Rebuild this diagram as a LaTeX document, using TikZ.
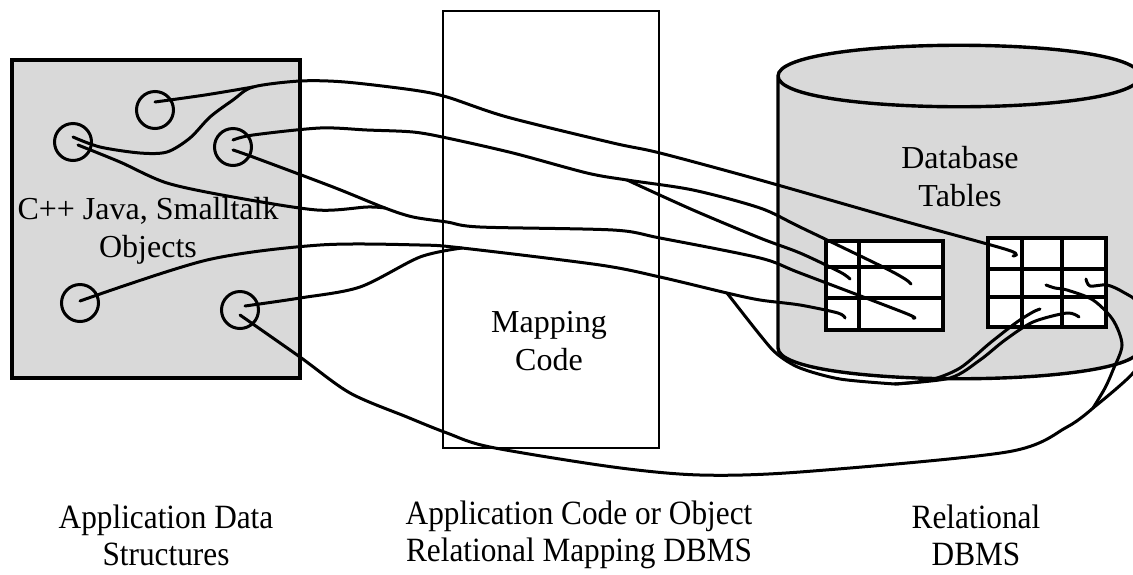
\documentclass[tikz,border=0pt]{standalone}
\usepackage{fontspec}
\setmainfont{Liberation Serif}
\newfontfamily\capfont[FakeStretch=0.92]{Liberation Serif}
\begin{document}
\begin{tikzpicture}[x=0.5pt,y=-0.5pt,
  wire/.style={line width=1.5pt,line cap=round,line join=round},
  obj/.style={circle,draw,line width=1.5pt,minimum size=18.5pt,inner sep=0pt},
  tbl/.style={draw,fill=white,line width=1.6pt,inner sep=0pt},
  lbl/.style={font=\fontsize{16}{19}\selectfont,align=center,inner sep=0pt},
  captext/.style={font=\capfont\fontsize{17}{18.5}\selectfont,align=center,inner sep=0pt}]
  \clip (0,0) rectangle (1133,574);

  % application side
  \node[draw,fill=black!15,line width=2pt,minimum width=144pt,minimum height=159pt] (app) at (156,219) {};
  \node[obj] (o1) at (155,110) {};
  \node[obj] (o2) at (73,142) {};
  \node[obj] (o3) at (233,147) {};
  \node[obj] (o4) at (80,303) {};
  \node[obj] (o5) at (240,310) {};
  \node[lbl] (applbl) at (148,231) {C++ Java, Smalltalk\\Objects};

  % mapping layer
  \node[draw,fill=white,line width=1.3pt,minimum width=108pt,minimum height=218.5pt] (map) at (551,229.5) {};
  \node[lbl] (maplbl) at (549,341) {Mapping\\Code};

  % database cylinder
  \path[fill=black!15] (778,76) -- (778,348) .. controls (778,389) and (1140,389) .. (1140,348)
    -- (1140,76) .. controls (1140,35) and (778,35) .. (778,76);
  \draw[line width=1.7pt] (1140,348) .. controls (1140,389) and (778,389) .. (778,348) -- (778,76)
    .. controls (778,35) and (1140,35) .. (1140,76) .. controls (1140,117) and (778,117) .. (778,76);
  \node[lbl] (dblbl) at (960,177) {Database\\Tables};

  % tables
  \node[tbl,minimum width=58.5pt,minimum height=44.5pt] (tab1) at (884.5,285.5) {};
  \draw[line width=1.6pt] (859,241) -- (859,330) (826,267) -- (943,267) (826,298) -- (943,298);
  \node[tbl,minimum width=59pt,minimum height=44.5pt] (tab2) at (1047,282.5) {};
  \draw[line width=1.6pt] (1022,238) -- (1022,327) (1062,238) -- (1062,327)
    (988,269) -- (1106,269) (988,297) -- (1106,297);

  \coordinate (t1c21) at (850,279);
  \coordinate (t1c22) at (911,284);
  \coordinate (t1c31) at (845,318);
  \coordinate (t1c32) at (913,318);
  \coordinate (t2c11) at (1013,256);
  \coordinate (t2c22) at (1046,285);
  \coordinate (t2c23) at (1086,279);
  \coordinate (t2c32) at (1040,309);
  \coordinate (t2c33) at (1079,317);

  \coordinate (j1) at (253,87);
  \coordinate (j2) at (627,180);
  \coordinate (j3) at (385,208);
  \coordinate (j4) at (462,248);
  \coordinate (j5) at (727,293);
  \coordinate (j6) at (895,384);
  \coordinate (j7) at (1093,408);

  % connections
  \draw[wire] plot[smooth,tension=.5] coordinates {([yshift=4pt]o1.center) (205,95) (j1)};
  \draw[wire] plot[smooth,tension=.5] coordinates {([yshift=2.5pt]o2.center) (100,147) (140,153)
    (167,152) (190,138) (210,117) (233,100) (j1) (300,81) (345,82) (413,90) (447,97) (507,117)
    (613,143) (660,153) (760,180) (900,220) (1008,250) (t2c11)};
  \draw[wire] plot[smooth,tension=.5] coordinates {([yshift=3.5pt]o3.center) (253,135) (320,128)
    (367,130) (413,132) (447,138) (513,153) (587,173) (j2) (693,190) (760,208) (800,227) (883,267)
    (905,279) (t1c22)};
  \draw[wire] plot[smooth,tension=.5] coordinates {(j2) (693,210) (760,238) (800,253) (840,272) (t1c21)};
  \draw[wire] plot[smooth,tension=.5] coordinates {([xshift=2.5pt,yshift=-1.5pt]o2.center) (120,162)
    (167,183) (233,197) (317,210) (367,207) (j3)};
  \draw[wire] plot[smooth,tension=.5] coordinates {([yshift=-1.5pt]o3.center) (253,157) (333,187)
    (j3) (413,217) (447,222) (480,227) (613,230) (660,238) (760,258) (800,273) (905,313) (t1c32)};
  \draw[wire] plot[smooth,tension=.5] coordinates {([yshift=1pt]o4.center) (207,260) (320,245)
    (420,245) (j4) (600,265) (660,277) (j5) (760,300) (800,305) (838,313) (t1c31)};
  \draw[wire] plot[smooth,tension=.5] coordinates {([xshift=2.5pt,yshift=2pt]o5.center) (300,298)
    (360,287) (420,257) (j4)};
  \draw[wire] plot[smooth,tension=.5] coordinates {(j5) (760,335) (777,354) (800,368) (840,379) (j6)};
  \draw[wire] plot[smooth,tension=.5] coordinates {(j6) (930,380) (960,368) (990,343) (1017,322)
    (1033,312) (t2c32)};
  \draw[wire] plot[smooth,tension=.5] coordinates {(j6) (950,378) (980,360) (1005,340) (1033,322)
    (1067,313) (t2c33)};
  \draw[wire] plot[smooth,tension=.5] coordinates {([yshift=-2.5pt]o5.center) (300,357) (350,393)
    (407,417) (447,433) (490,447) (613,467) (700,475) (800,472) (1007,452) (1067,427) (j7)};
  \draw[wire] plot[smooth,tension=.5] coordinates {(j7) (1105,388) (1113,370) (1122,345) (1113,320)
    (1093,300) (1067,290) (1055,288) (t2c22)};
  \draw[wire] plot[smooth,tension=.5] coordinates {(j7) (1133,373) (1150,340) (1140,305) (1123,292)
    (1107,285) (1090,286) (t2c23)};

  % captions
  \node[captext] (capapp) at (166,535) {Application Data\\Structures};
  \node[captext] (capmap) at (579,535) {Application Code or Object\\Relational Mapping DBMS};
  \node[captext] (capdb) at (976,535) {Relational\\DBMS};
\end{tikzpicture}
\end{document}
